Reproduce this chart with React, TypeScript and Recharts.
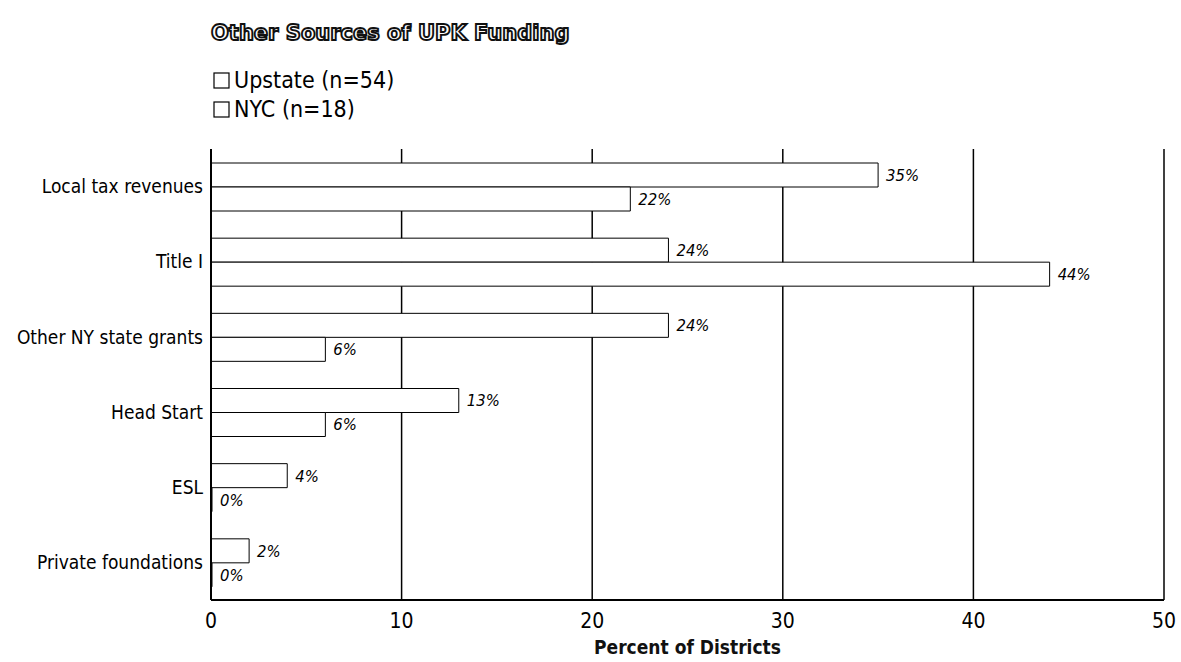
import React from "react";
import {
  BarChart,
  Bar,
  XAxis,
  YAxis,
  CartesianGrid,
  LabelList,
} from "recharts";

const categories = [
  "Local tax revenues",
  "Title I",
  "Other NY state grants",
  "Head Start",
  "ESL",
  "Private foundations",
];
const upstate = [35, 24, 24, 13, 4, 2];
const nyc = [22, 44, 6, 6, 0, 0];
const xTicks = [0, 10, 20, 30, 40, 50];
const seriesNames = ["Upstate (n=54)", "NYC (n=18)"];

const data = categories.map((name, i) => ({
  name,
  upstate: upstate[i],
  nyc: nyc[i],
}));

const narrow = '"DejaVu Sans Condensed", "Liberation Sans Narrow", sans-serif';

const pct = (v: any) => `${v}%`;

export default function App() {
  return (
    <div style={{ position: "relative", width: 1181, height: 662, background: "#fff" }}>
      <style>{`body{margin:0}`}</style>
      <BarChart
        width={1181}
        height={662}
        data={data}
        layout="vertical"
        margin={{ top: 149, right: 17, bottom: 0, left: 0 }}
        barCategoryGap={14}
        barGap={0}
      >
        <CartesianGrid horizontal={false} stroke="#000" strokeWidth={1.5} />
        <XAxis
          type="number"
          domain={[0, 50]}
          ticks={xTicks}
          height={62}
          tickLine={false}
          tickMargin={7}
          axisLine={{ stroke: "#000", strokeWidth: 2 }}
          tick={{ fill: "#000", fontSize: 21, fontFamily: narrow }}
          label={{
            value: "Percent of Districts",
            position: "insideBottom",
            offset: 8,
            style: { fill: "#111", fontSize: 19, fontWeight: 700, fontFamily: narrow },
          }}
        />
        <YAxis
          type="category"
          dataKey="name"
          width={211}
          tickLine={false}
          axisLine={{ stroke: "#000", strokeWidth: 2 }}
          tick={{ fill: "#000", fontSize: 19, fontFamily: narrow }}
        />
        <Bar dataKey="upstate" name={seriesNames[0]} fill="#fff" stroke="#000" strokeWidth={1} isAnimationActive={false}>
          <LabelList
            dataKey="upstate"
            position="right"
            offset={8}
            formatter={pct}
            style={{ fill: "#000", fontSize: 16.5, fontStyle: "italic", fontFamily: narrow }}
          />
        </Bar>
        <Bar dataKey="nyc" name={seriesNames[1]} minPointSize={1} fill="#fff" stroke="#000" strokeWidth={1} isAnimationActive={false}>
          <LabelList
            dataKey="nyc"
            position="right"
            offset={8}
            formatter={pct}
            style={{ fill: "#000", fontSize: 16.5, fontStyle: "italic", fontFamily: narrow }}
          />
        </Bar>
      </BarChart>
      <svg
        width={1181}
        height={140}
        style={{ position: "absolute", left: 0, top: 0, pointerEvents: "none" }}
      >
        <text
          x={211}
          y={40}
          fontSize={21}
          fontWeight={700}
          fontFamily='"DejaVu Sans", sans-serif'
          fill="#fff"
          stroke="#111"
          strokeWidth={1.9}
        >
          Other Sources of UPK Funding
        </text>
        {seriesNames.map((s, i) => (
          <g key={s}>
            <rect x={214} y={73 + i * 29} width={15} height={15} fill="#fff" stroke="#000" strokeWidth={1.2} />
            <text x={234} y={88 + i * 29} fontSize={23} fontFamily={narrow} fill="#000">
              {s}
            </text>
          </g>
        ))}
      </svg>
    </div>
  );
}
